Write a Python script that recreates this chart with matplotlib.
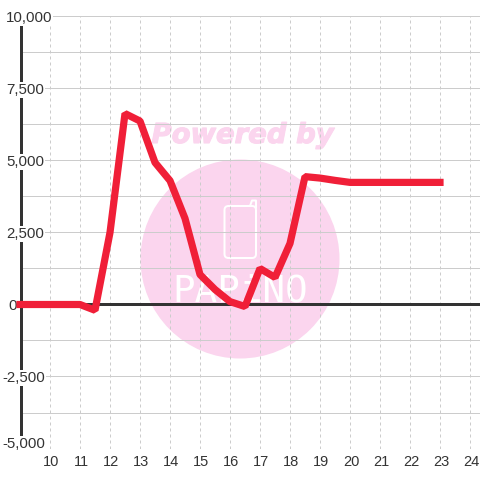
# Line chart with watermark background
import matplotlib
matplotlib.use("Agg")
import matplotlib.pyplot as plt
import matplotlib.patheffects as pe
from matplotlib.patches import Circle, FancyBboxPatch

# Data
hours = [9, 10, 11, 11.5, 12, 12.5, 13, 13.5, 14, 14.5, 15, 15.5, 16, 16.5,
         17, 17.5, 18, 18.5, 19, 19.5, 20, 21, 22, 23]
values = [0, 0, 0, -200, 2500, 6630, 6370, 4930, 4300, 2990, 1040, 520, 100, -70,
          1250, 940, 2120, 4440, 4390, 4310, 4240, 4240, 4240, 4240]
x_ticks = list(range(10, 25))
y_major = [10000, 7500, 5000, 2500, 0, -2500, -5000]
y_minor = [8750, 6250, 3750, 1250, -1250, -3750]
y_labels = ["10,000", "7,500", "5,000", "2,500", "0", "-2,500", "-5,000"]
y_label_left = [6, 6, 6, 6, 8, 2, 2]   # pixels from the left edge
y_label_lift = [0, 0, 0, 0, 0, 0, 6]   # bottom label sits above its line

plt.rcParams["font.family"] = ["Liberation Sans", "DejaVu Sans"]
PX = 0.72  # points per pixel at dpi 100
PINK = "#fbd5ee"
INK = "#333333"
GRID = "#cccccc"
RED = "#f01f38"

fig = plt.figure(figsize=(4.8, 4.8), dpi=100, facecolor="white")

# Watermark layer, in pixel coordinates
bg = fig.add_axes([0, 0, 1, 1], zorder=0)
bg.set_xlim(0, 480)
bg.set_ylim(480, 0)
bg.axis("off")
bg.add_patch(Circle((240, 259), 99.5, color=PINK, lw=0))
bg.text(242.5, 135, "Powered by", color=PINK, fontsize=19.8, family="DejaVu Sans",
        weight="bold", style="italic", ha="center", va="center",
        path_effects=[pe.withStroke(linewidth=0.8, foreground=PINK)])
bg.add_patch(FancyBboxPatch((224.5, 206), 31.5, 52, boxstyle="round,pad=0,rounding_size=4",
                            fc="none", ec="white", lw=2 * PX))
bg.plot([250, 252, 256, 256], [206, 200.5, 200.5, 208], color="white", lw=2 * PX,
        solid_capstyle="round")
bg.text(240, 291, "PAPiNO", color="white", fontsize=27, family="DejaVu Sans Mono",
        ha="center", va="center")

# Chart layer
left, right, top, bottom = 20, 480, 16.5, 448.5
ax = fig.add_axes([left / 480, 1 - bottom / 480, (right - left) / 480, (bottom - top) / 480],
                  zorder=1)
ax.patch.set_alpha(0)
ax.set_xlim(9, 9 + (right - left) / 30)
ax.set_ylim(-5000, 10000)
for s in ax.spines.values():
    s.set_visible(False)

ax.set_xticks(x_ticks)
ax.set_xticklabels([])
ax.set_yticks(y_major)
ax.set_yticks(y_minor, minor=True)
ax.set_yticklabels([])
ax.tick_params(which="both", length=0)
ax.grid(axis="y", which="both", color=GRID, linewidth=PX, zorder=1)
ax.grid(axis="x", color=GRID, linewidth=PX, linestyle=(0, (3, 3)), zorder=1)
ax.set_axisbelow(True)

ax.axvline(9 + 0.5 / 30, color=INK, linewidth=3 * PX, zorder=2, clip_on=False)
ax.axhline(0, color=INK, linewidth=3 * PX, zorder=2)

# x labels sit a little right of their grid lines
for v in x_ticks:
    ax.annotate(str(v), xy=(v, 0), xycoords=ax.get_xaxis_transform(),
                xytext=(1.5 * PX, -12.5 * PX), textcoords="offset points",
                ha="center", va="center_baseline", fontsize=10.5, color=INK,
                annotation_clip=False)

for v, lab, xp, lift in zip(y_major, y_labels, y_label_left, y_label_lift):
    ax.annotate(lab, xy=(0, v), xycoords=ax.get_yaxis_transform(),
                xytext=((xp - left) * PX, lift * PX), textcoords="offset points",
                ha="left", va="center_baseline", fontsize=10.8, color=INK, zorder=3,
                annotation_clip=False,
                bbox=dict(fc="white", ec="none", pad=0.5))

ax.plot(hours, values, color=RED, linewidth=7.2 * PX, solid_capstyle="projecting",
        solid_joinstyle="bevel", zorder=4, clip_on=False)

fig.savefig("out.png", dpi=100)
